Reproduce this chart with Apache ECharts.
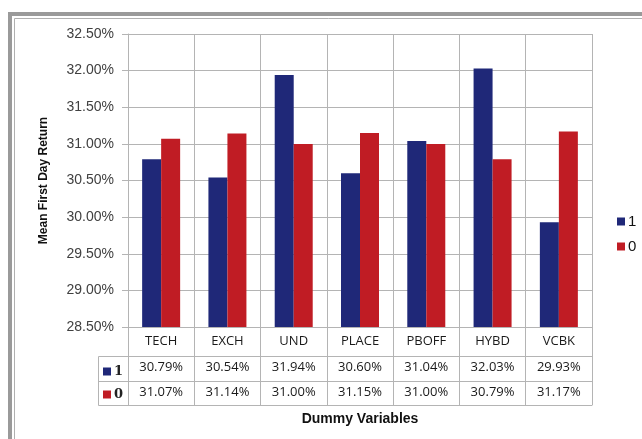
<!DOCTYPE html>
<html>
<head>
<meta charset="utf-8">
<script src="https://cdn.jsdelivr.net/npm/echarts@6/dist/echarts.min.js"></script>
<style>
html, body { margin: 0; padding: 0; background: #fff; }
#chart { width: 642px; height: 439px; }
</style>
</head>
<body>
<div id="chart"></div>
<script>
const categories = ['TECH', 'EXCH', 'UND', 'PLACE', 'PBOFF', 'HYBD', 'VCBK'];
const seriesOne = [30.79, 30.54, 31.94, 30.60, 31.04, 32.03, 29.93];
const seriesZero = [31.07, 31.14, 31.00, 31.15, 31.00, 30.79, 31.17];
const yMin = 28.5;
const yMax = 32.5;
const yStep = 0.5;

const navy = '#1f2878';
const red = '#c01c24';
const lineGray = '#b4b4b4';
const pct = (v) => v.toFixed(2) + '%';

// plot box and data table rows (offsets below the plot bottom)
const gridLeft = 128;
const gridTop = 34;
const gridRight = 592;
const gridBottom = 327;
const rowLines = [29, 54, 78];
const tableFont = { fontFamily: '"Open Sans", sans-serif', fontSize: 13, color: '#1a1a1a' };

function tableAxis(data, offset, tickLen, margin) {
  return {
    type: 'category',
    data: data,
    position: 'bottom',
    offset: offset,
    axisLine: { show: true, lineStyle: { color: lineGray, width: 1 } },
    axisTick: { show: true, length: tickLen, interval: 0, lineStyle: { color: lineGray } },
    axisLabel: Object.assign({ interval: 0, margin: margin }, tableFont),
    splitLine: { show: false },
  };
}

const xAxes = [
  tableAxis(categories, 0, rowLines[0], 8),
  tableAxis(seriesOne.map(pct), rowLines[0], rowLines[1] - rowLines[0], 5),
  tableAxis(seriesZero.map(pct), rowLines[1], rowLines[2] - rowLines[1], 5),
  {
    type: 'category',
    data: categories,
    position: 'bottom',
    offset: rowLines[2],
    axisLine: { show: true, lineStyle: { color: lineGray } },
    axisTick: { show: false },
    axisLabel: { show: false },
    name: 'Dummy Variables',
    nameLocation: 'middle',
    nameGap: 7,
    nameTextStyle: {
      fontFamily: '"Liberation Sans", Arial, sans-serif',
      fontWeight: 'bold', fontSize: 14, color: '#111', verticalAlign: 'top',
    },
  },
];
xAxes[0].splitLine = { show: true, interval: 0, lineStyle: { color: lineGray } };

const chart = echarts.init(document.getElementById('chart'));
chart.setOption({
  animation: false,
  backgroundColor: '#fff',
  grid: {
    left: gridLeft,
    top: gridTop,
    right: 642 - gridRight,
    bottom: 439 - gridBottom,
    containLabel: false,
  },
  legend: [
    {
      data: ['1', '0'],
      orient: 'vertical',
      left: 612,
      top: 209,
      icon: 'rect',
      itemWidth: 8,
      itemHeight: 8,
      itemGap: 10,
      selectedMode: false,
      textStyle: { fontFamily: '"Liberation Sans", Arial, sans-serif', fontSize: 15, color: '#111', padding: [0, 0, 0, -2] },
    },
    {
      data: ['1', '0'],
      orient: 'vertical',
      left: 98,
      top: 360,
      icon: 'rect',
      itemWidth: 8,
      itemHeight: 8,
      itemGap: 10,
      selectedMode: false,
      textStyle: { fontFamily: '"DejaVu Serif", serif', fontWeight: 'bold', fontSize: 13, color: '#222', padding: [0, 0, 0, -2] },
    },
  ],
  xAxis: xAxes,
  yAxis: {
    type: 'value',
    min: yMin,
    max: yMax,
    interval: yStep,
    axisLine: { show: true, lineStyle: { color: lineGray } },
    axisTick: { show: true, length: 6, lineStyle: { color: lineGray } },
    axisLabel: {
      formatter: pct,
      margin: 14,
      fontFamily: '"Liberation Sans", Arial, sans-serif',
      fontSize: 14,
      color: '#404040',
    },
    splitLine: { show: true, lineStyle: { color: lineGray } },
    name: 'Mean First Day Return',
    nameLocation: 'middle',
    nameGap: 78,
    nameTextStyle: {
      fontFamily: '"Liberation Sans", Arial, sans-serif',
      fontWeight: 'bold', fontSize: 12, color: '#111',
    },
  },
  series: [
    {
      name: '1',
      type: 'bar',
      data: seriesOne,
      barWidth: 19,
      barGap: '0%',
      itemStyle: { color: navy },
    },
    {
      name: '0',
      type: 'bar',
      data: seriesZero,
      barWidth: 19,
      barGap: '0%',
      itemStyle: { color: red },
    },
  ],
  graphic: [
    // outer frame of the chart object
    { type: 'rect', silent: true, shape: { x: 10, y: 14, width: 700, height: 500 }, style: { fill: null, stroke: '#9a9a9a', lineWidth: 4 } },
    { type: 'rect', silent: true, shape: { x: 14.5, y: 18.5, width: 700, height: 500 }, style: { fill: null, stroke: '#b0b0b0', lineWidth: 1 } },
    // legend-key column of the data table
    {
      type: 'rect', silent: true,
      shape: { x: 98.5, y: gridBottom + rowLines[0] + 0.5, width: gridLeft - 98, height: rowLines[2] - rowLines[0] },
      style: { fill: null, stroke: lineGray, lineWidth: 1 },
    },
    {
      type: 'line', silent: true,
      shape: { x1: 98.5, y1: gridBottom + rowLines[1] + 0.5, x2: gridLeft, y2: gridBottom + rowLines[1] + 0.5 },
      style: { stroke: lineGray, lineWidth: 1 },
    },
  ],
});
</script>
</body>
</html>
